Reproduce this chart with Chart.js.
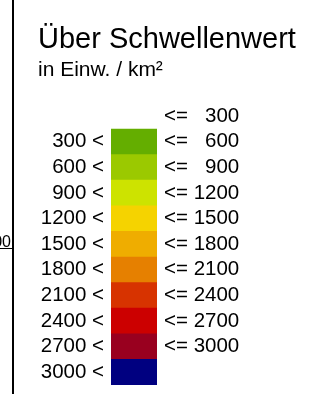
<!DOCTYPE html>
<html>
<head>
<meta charset="utf-8">
<script src="https://cdn.jsdelivr.net/npm/chart.js@4/dist/chart.umd.min.js"></script>
<style>
  html, body { margin: 0; padding: 0; background: #fff; }
  #wrap { position: relative; width: 319px; height: 394px; }
</style>
</head>
<body>
<div id="wrap"><canvas id="legend"></canvas></div>
<script>
// class bounds (Einw. / km²), one row per class, first row only carries "<= 300"
const lowerLabels = ['', '300 <', '600 <', '900 <', '1200 <', '1500 <', '1800 <', '2100 <', '2400 <', '2700 <', '3000 <'];
const upperLabels = ['<=   300', '<=   600', '<=   900', '<= 1200', '<= 1500', '<= 1800', '<= 2100', '<= 2400', '<= 2700', '<= 3000', ''];
const hasBox = [false, true, true, true, true, true, true, true, true, true, true];
const classColors = ['#ffffff', '#64ae00', '#9bc900', '#cde300', '#f5d300', '#efad00', '#e68000', '#d73300', '#cc0000', '#99001f', '#000080'];

const FONT = "'Liberation Sans', Arial, sans-serif";

// left frame of the neighbouring map panel
const framePlugin = {
  id: 'frame',
  beforeDraw(chart) {
    const ctx = chart.ctx;
    ctx.save();
    ctx.fillStyle = '#fff';
    ctx.fillRect(0, 0, chart.width, chart.height);
    ctx.restore();
  },
  afterDraw(chart) {
    const ctx = chart.ctx;
    ctx.save();
    ctx.strokeStyle = '#000';
    ctx.lineWidth = 2;
    ctx.beginPath();
    ctx.moveTo(13, 0);
    ctx.lineTo(13, chart.height);
    ctx.stroke();
    ctx.lineWidth = 1;
    ctx.beginPath();
    ctx.moveTo(0, 248.5);
    ctx.lineTo(13, 248.5);
    ctx.stroke();
    ctx.fillStyle = '#000';
    ctx.font = '16px ' + FONT;
    ctx.textAlign = 'right';
    ctx.textBaseline = 'alphabetic';
    ctx.fillText('1500', 11, 246.5);
    ctx.restore();
  }
};

new Chart(document.getElementById('legend'), {
  type: 'bar',
  data: {
    labels: lowerLabels,
    datasets: [{
      data: hasBox.map(b => b ? [0, 1] : null),
      backgroundColor: classColors,
      borderWidth: 0,
      barPercentage: 1,
      categoryPercentage: 1
    }]
  },
  options: {
    indexAxis: 'y',
    responsive: true,
    maintainAspectRatio: false,
    animation: false,
    layout: { padding: { left: 38, right: 0, top: 0, bottom: 9 } },
    plugins: {
      legend: { display: false },
      tooltip: { enabled: false },
      title: {
        display: true,
        text: 'Über Schwellenwert',
        align: 'start',
        color: '#000',
        font: { family: FONT, size: 29, weight: 'normal' },
        padding: { top: 22.6, bottom: 0 }
      },
      subtitle: {
        display: true,
        text: 'in Einw. / km²',
        align: 'start',
        color: '#000',
        font: { family: FONT, size: 21, weight: 'normal' },
        padding: { top: 0, bottom: 20.8 }
      }
    },
    scales: {
      x: { type: 'linear', min: 0, max: 1, display: false },
      y: {
        type: 'category',
        position: 'left',
        offset: true,
        grid: { display: false, drawTicks: false },
        border: { display: false },
        ticks: { color: '#000', padding: 7, autoSkip: false, font: { family: FONT, size: 20.5 } },
        afterFit(s) { s.width = 73; s.paddingTop = 0; s.paddingBottom = 0; }
      },
      y2: {
        type: 'category',
        position: 'right',
        labels: upperLabels,
        offset: true,
        grid: { display: false, drawTicks: false },
        border: { display: false },
        ticks: { color: '#000', padding: 7, autoSkip: false, font: { family: FONT, size: 20.5 } },
        afterFit(s) { s.width = 162; s.paddingTop = 0; s.paddingBottom = 0; }
      }
    }
  },
  plugins: [framePlugin]
});
</script>
</body>
</html>
